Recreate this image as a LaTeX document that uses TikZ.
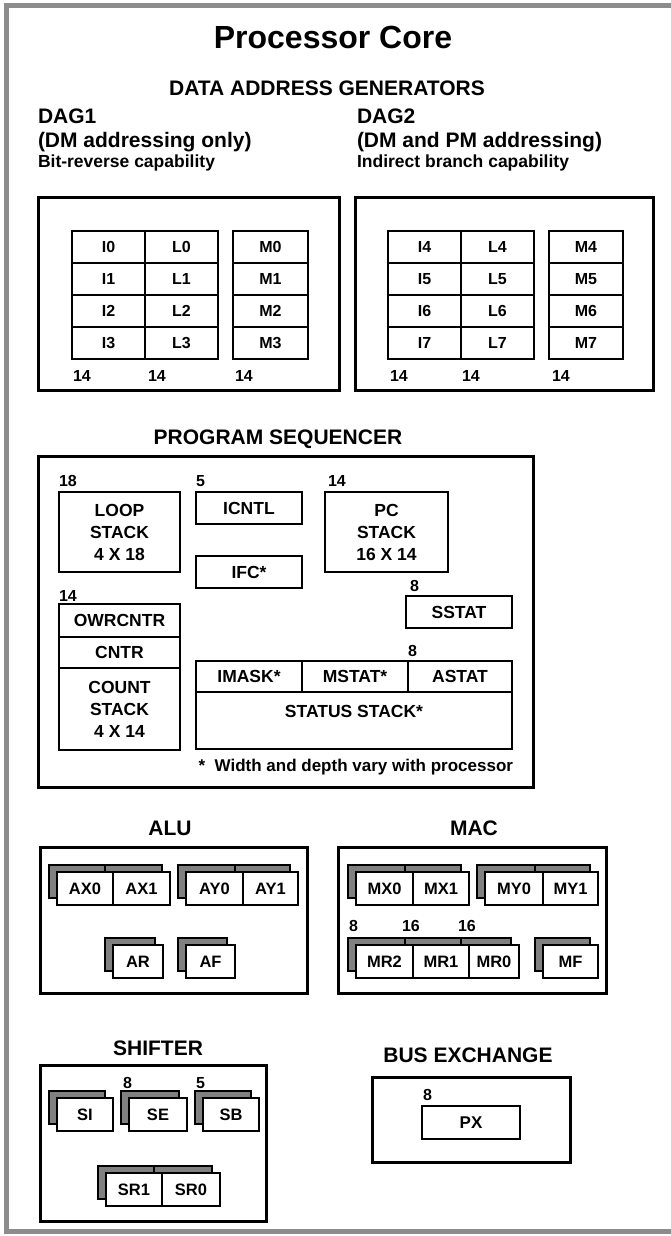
\documentclass[tikz,border=0pt]{standalone}
\usepackage{fontspec}
\setmainfont{Liberation Sans}
\usetikzlibrary{positioning}

\begin{document}
\begin{tikzpicture}[
  x=1pt, y=-1pt,
  every node/.style={font=\bfseries, inner sep=0pt, outer sep=0pt},
  ttl/.style={font=\bfseries\fontsize{32}{36}\selectfont, anchor=base},
  sec/.style={font=\bfseries\fontsize{21}{24}\selectfont, anchor=base},
  dagtxt/.style={font=\bfseries\fontsize{21}{24}\selectfont, anchor=base west},
  dagsub/.style={font=\bfseries\fontsize{17.5}{20}\selectfont, anchor=base west},
  wid/.style={font=\bfseries\fontsize{16}{18}\selectfont, anchor=base west},
  frm/.style={draw, line width=3pt, anchor=north west},
  cell/.style={draw, line width=1.2pt, anchor=north west, minimum height=32pt,
               font=\bfseries\fontsize{16}{18}\selectfont},
  psb/.style={draw, line width=1.2pt, anchor=north west, align=center,
              font=\bfseries\fontsize{17.5}{22}\selectfont},
  reg/.style={draw, line width=1.2pt, fill=white, anchor=north west, minimum height=33pt,
              font=\bfseries\fontsize{16.5}{18}\selectfont},
  shd/.style={reg, fill=black!50}
]
\useasboundingbox (0,0) rectangle (670,1236);
% outer frame, open to the right
\draw[line width=5pt, black!45] (672,6) -- (6,6) -- (6,1231) -- (672,1231);

\node[ttl] (core) at (333,49) {Processor Core};

% data address generators
\node[sec] (dagttl) at (327,96) {DATA ADDRESS GENERATORS};
\node[dagtxt] (dag1) at (38,124) {DAG1};
\node[dagtxt] (dag1a) at (38,147) {(DM addressing only)};
\node[dagsub] (dag1b) at (38,167) {Bit-reverse capability};
\node[dagtxt] (dag2) at (357,124) {DAG2};
\node[dagtxt] (dag2a) at (357,147) {(DM and PM addressing)};
\node[dagsub] (dag2b) at (357,167) {Indirect branch capability};

\node[frm, minimum width=301pt, minimum height=193pt] (dagA) at (38,197) {};
\node[frm, minimum width=298pt, minimum height=193pt] (dagB) at (355,197) {};

\foreach \r in {0,...,3} {
  \node[cell, minimum width=73pt] (i\r) at (72,{231+32*\r}) {I\r};
  \node[cell, minimum width=73pt, right=0pt of i\r] (l\r) {L\r};
  \node[cell, minimum width=75pt] (m\r) at (233,{231+32*\r}) {M\r};
}
\foreach \n [count=\r from 0] in {4,...,7} {
  \node[cell, minimum width=73pt] (i\n) at (388,{231+32*\r}) {I\n};
  \node[cell, minimum width=73pt, right=0pt of i\n] (l\n) {L\n};
  \node[cell, minimum width=74pt] (m\n) at (549,{231+32*\r}) {M\n};
}
\node[wid] (wi0) at (73,381) {14};
\node[wid] (wl0) at (148,381) {14};
\node[wid] (wm0) at (235,381) {14};
\node[wid] (wi4) at (390,381) {14};
\node[wid] (wl4) at (462,381) {14};
\node[wid] (wm4) at (552,381) {14};

% program sequencer
\node[sec] (psttl) at (278,444) {PROGRAM SEQUENCER};
\node[frm, minimum width=495pt, minimum height=331pt] (ps) at (38,456) {};

\node[wid] (wloop) at (59,486) {18};
\node[psb, minimum width=121pt, minimum height=80pt] (loop) at (59,492) {LOOP\\STACK\\4 X 18};
\node[wid] (wicntl) at (196,486) {5};
\node[psb, minimum width=106pt, minimum height=32pt] (icntl) at (196,492) {ICNTL};
\node[psb, minimum width=106pt, minimum height=32pt] (ifc) at (196,556) {IFC*};
\node[wid] (wpc) at (328,486) {14};
\node[psb, minimum width=123pt, minimum height=80pt] (pc) at (325,492) {PC\\STACK\\16 X 14};
\node[wid] (wsstat) at (410,591) {8};
\node[psb, minimum width=106pt, minimum height=32pt] (sstat) at (406,596) {SSTAT};

\node[wid] (wcnt) at (59,601) {14};
\node[psb, minimum width=121pt, minimum height=33pt] (owr) at (59,604) {OWRCNTR};
\node[psb, minimum width=121pt, minimum height=31pt, below=0pt of owr] (cntr) {CNTR};
\node[psb, minimum width=121pt, minimum height=82pt, below=0pt of cntr] (cnts) {COUNT\\STACK\\4 X 14};

\node[wid] (wastat) at (408,656) {8};
\node[psb, minimum width=106pt, minimum height=31pt] (imask) at (196,661) {IMASK*};
\node[psb, minimum width=106pt, minimum height=31pt, right=0pt of imask] (mstat) {MSTAT*};
\node[psb, minimum width=104pt, minimum height=31pt, right=0pt of mstat] (astat) {ASTAT};
\node[psb, minimum width=316pt, minimum height=57pt, text depth=18pt] (sstack) at (196,692) {STATUS STACK*};
\node[font=\bfseries\fontsize{17}{20}\selectfont, anchor=base east] (note) at (513,771)
  {*\ \ Width and depth vary with processor};

% alu and mac
\node[sec] (aluttl) at (170,835) {ALU};
\node[frm, minimum width=267pt, minimum height=146pt] (alu) at (40,847) {};
\node[sec] (macttl) at (474,835) {MAC};
\node[frm, minimum width=268pt, minimum height=146pt] (mac) at (338,847) {};

% shifter and bus exchange
\node[sec] (shttl) at (158,1055) {SHIFTER};
\node[frm, minimum width=226pt, minimum height=156pt] (sh) at (40,1065) {};
\node[sec] (bxttl) at (468,1062) {BUS EXCHANGE};
\node[frm, minimum width=198pt, minimum height=85pt] (bx) at (372,1077) {};
\node[wid] (wpx) at (423,1100) {8};
\node[psb, minimum width=98pt, minimum height=33pt, font=\bfseries\fontsize{17}{20}\selectfont] (px) at (422,1106) {PX};

% shadowed registers: backs first, then fronts
\def\reglist{AX0/57/872/56, AX1/113/872/57, AY0/186/872/57, AY1/243/872/55,
  AR/113/945/50, AF/186/945/49,
  MX0/356/872/57, MX1/413/872/56, MY0/485/872/58, MY1/543/872/55,
  MR2/356/945/57, MR1/413/945/56, MR0/469/945/50, MF/543/945/55,
  SI/57/1098/56, SE/129/1098/58, SB/203/1098/56,
  SR1/106/1173/56, SR0/162/1173/58}
\foreach \nm/\x/\y/\w in \reglist
  \node[shd, minimum width=\w pt] (\nm-s) at (\x-8,\y-7) {};
\foreach \nm/\x/\y/\w in \reglist
  \node[reg, minimum width=\w pt] (\nm) at (\x,\y) {\nm};

\node[wid] (wmr2) at (349,931) {8};
\node[wid] (wmr1) at (402,931) {16};
\node[wid] (wmr0) at (458,931) {16};
\node[wid] (wse) at (123,1088) {8};
\node[wid] (wsb) at (196,1088) {5};
\end{tikzpicture}
\end{document}
